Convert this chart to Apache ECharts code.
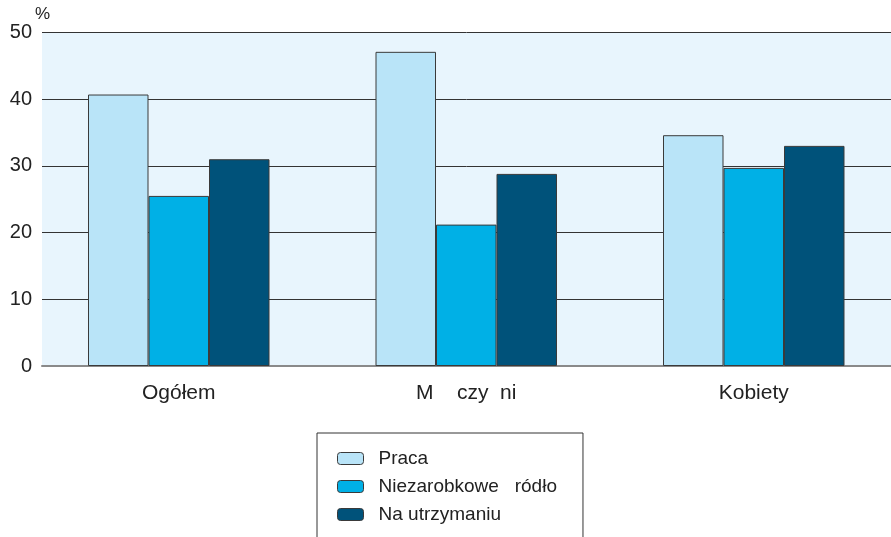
<!DOCTYPE html>
<html>
<head>
<meta charset="utf-8">
<script src="https://cdn.jsdelivr.net/npm/echarts@6/dist/echarts.min.js"></script>
<style>
  html, body { margin: 0; padding: 0; background: #fff; }
  #chart { width: 891px; height: 537px; }
</style>
</head>
<body>
<div id="chart"></div>
<script>
const categories = ['Ogółem', 'M    czy  ni', 'Kobiety']
const seriesNames = ['Praca', 'Niezarobkowe   ródło', 'Na utrzymaniu']
const praca = [40.7, 47.1, 34.6]
const niezarobkowe = [25.5, 21.2, 29.7]
const naUtrzymaniu = [31.0, 28.8, 33.0]
const yTicks = [0, 10, 20, 30, 40, 50]

const colors = ['#b9e4f8', '#00b0e6', '#00527a']
const font = 'Liberation Sans, Arial, sans-serif'

const chart = echarts.init(document.getElementById('chart'))

const barStyle = (c) => ({ color: c, borderColor: '#3a3a3a', borderWidth: 1 })

const option = {
  animation: false,
  textStyle: { fontFamily: font },
  grid: [
    // tło i linie siatki
    { left: 42, right: 0, top: 32.5, bottom: 171, show: true, backgroundColor: '#e8f5fd', borderWidth: 0, outerBoundsMode: 'none' },
    // słupki
    { left: 35, width: 862.5, top: 32.5, bottom: 171, outerBoundsMode: 'none' }
  ],
  legend: {
    orient: 'vertical',
    left: 317,
    top: 433,
    height: 110,
    padding: [16, 26, 40, 20],
    itemWidth: 26,
    itemHeight: 12,
    itemGap: 9,
    borderColor: '#333',
    borderWidth: 1,
    borderRadius: 0,
    data: seriesNames,
    textStyle: { fontSize: 19, lineHeight: 19, color: '#222', fontFamily: font, padding: [0, 0, 0, 10] },
    itemStyle: { borderColor: '#3a3a3a', borderWidth: 1 }
  },
  xAxis: [
    {
      gridIndex: 0, type: 'category', data: categories,
      axisLine: { show: true, lineStyle: { color: '#8a8a8a', width: 2 } },
      axisTick: { show: false }, axisLabel: { show: false }
    },
    {
      gridIndex: 1, type: 'category', data: categories,
      axisLine: { show: false }, axisTick: { show: false },
      axisLabel: { fontSize: 21, color: '#222', margin: 17, fontFamily: font }
    }
  ],
  yAxis: [
    {
      gridIndex: 0, type: 'value', min: 0, max: 50, interval: 10,
      name: '%', nameGap: 8, nameLocation: 'end',
      nameTextStyle: { fontSize: 17, color: '#222', align: 'left', padding: [0, 0, 0, -7], fontFamily: font },
      axisLine: { show: false }, axisTick: { show: false },
      axisLabel: { fontSize: 20, color: '#222', margin: 10, fontFamily: font },
      splitLine: { lineStyle: { color: '#333', width: 1 } }
    },
    {
      gridIndex: 1, type: 'value', min: 0, max: 50, interval: 10, show: false,
      splitLine: { show: false }
    }
  ],
  series: [
    { name: seriesNames[0], type: 'bar', data: praca, xAxisIndex: 1, yAxisIndex: 1,
      barWidth: 60.5, barGap: '0%', itemStyle: barStyle(colors[0]) },
    { name: seriesNames[1], type: 'bar', data: niezarobkowe, xAxisIndex: 1, yAxisIndex: 1,
      barWidth: 60.5, barGap: '0%', itemStyle: barStyle(colors[1]) },
    { name: seriesNames[2], type: 'bar', data: naUtrzymaniu, xAxisIndex: 1, yAxisIndex: 1,
      barWidth: 60.5, barGap: '0%', itemStyle: barStyle(colors[2]) }
  ]
}
chart.setOption(option)
</script>
</body>
</html>
